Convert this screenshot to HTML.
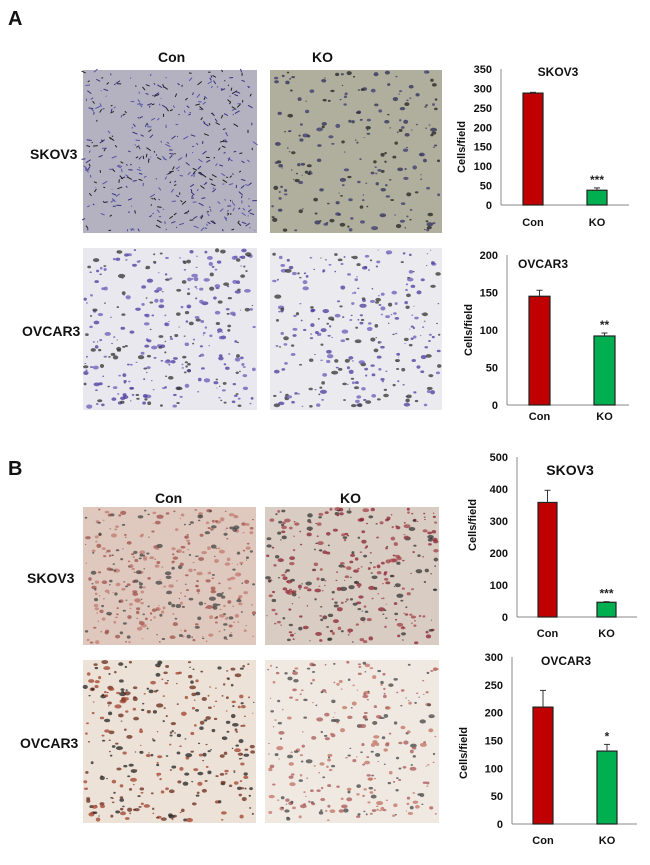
<!DOCTYPE html>
<html><head><meta charset="utf-8">
<style>
body{margin:0;background:#fff;width:650px;height:865px;position:relative;overflow:hidden;font-family:"Liberation Sans",Arial,sans-serif}
.t{position:absolute;font-weight:bold;color:#111}
svg{position:absolute;left:0;top:0}
</style></head><body>
<div class="t" style="left:8px;top:8px;font-size:20px">A</div>
<div class="t" style="left:8px;top:458px;font-size:20px">B</div>
<div class="t" style="left:158px;top:49px;font-size:14px">Con</div>
<div class="t" style="left:312px;top:49px;font-size:14px">KO</div>
<div class="t" style="left:30px;top:146px;font-size:14px">SKOV3</div>
<div class="t" style="left:22px;top:323px;font-size:14px">OVCAR3</div>
<div class="t" style="left:155px;top:490px;font-size:14px">Con</div>
<div class="t" style="left:340px;top:490px;font-size:14px">KO</div>
<div class="t" style="left:27px;top:570px;font-size:14px">SKOV3</div>
<div class="t" style="left:20px;top:735px;font-size:14px">OVCAR3</div>
<svg id="s" width="650" height="865"></svg>
<script>
// chart data
const categories=["Con","KO"];
const aSkovValues=[288,38];
const aSkovErrors=[2,6];
const aSkovStars=["","***"];
const aSkovTicks=[0,50,100,150,200,250,300,350];
const aOvcarValues=[145,92];
const aOvcarErrors=[8,4];
const aOvcarStars=["","**"];
const aOvcarTicks=[0,50,100,150,200];
const bSkovValues=[358,46];
const bSkovErrors=[38,2];
const bSkovStars=["","***"];
const bSkovTicks=[0,100,200,300,400,500];
const bOvcarValues=[210,131];
const bOvcarErrors=[30,12];
const bOvcarStars=["","*"];
const bOvcarTicks=[0,50,100,150,200,250,300];

const NS="http://www.w3.org/2000/svg";
const svg=document.getElementById('s');
function mk(tag,at,parent){const e=document.createElementNS(NS,tag);for(const k in at)e.setAttribute(k,at[k]);(parent||svg).appendChild(e);return e;}

// microscopy image approximations
let seed=7;function rnd(){seed=(seed*16807)%2147483647;return seed/2147483647;}
const imgs=[
 ["img-a-skov3-con",83,70,174,163,"#b4b2c0",["#3a3280","#5a54a8","#222"],420,true],
 ["img-a-skov3-ko",270,70,172,163,"#b0ae9c",["#2e2c5a","#3a3870","#222"],220,false],
 ["img-a-ovcar3-con",83,248,174,162,"#e8e8ee",["#4a3a9c","#6a5ab8","#333"],330,false],
 ["img-a-ovcar3-ko",270,248,172,162,"#ebebef",["#4a3a9c","#6a5ab8","#333"],280,false],
 ["img-b-skov3-con",83,507,173,138,"#dfc9bf",["#c07a70","#a05048","#444"],380,false],
 ["img-b-skov3-ko",265,507,174,138,"#d9cdc3",["#8a2030","#333","#a04048"],330,false],
 ["img-b-ovcar3-con",83,660,173,163,"#ece2d8",["#a0402a","#6a2a1a","#222"],330,false],
 ["img-b-ovcar3-ko",265,660,174,163,"#efe9e2",["#c07060","#444","#a55"],300,false]];
imgs.forEach(m=>{
 const g=mk('g',{});
 
 
 mk('rect',{x:m[1],y:m[2],width:m[3],height:m[4],fill:m[5]},g);
 for(let i=0;i<m[7];i++){
  const cx=m[1]+2+rnd()*(m[3]-4),cy=m[2]+2+rnd()*(m[4]-4);
  const r=0.5+rnd()*1.6;
  if(m[8]){mk('line',{x1:cx,y1:cy,x2:cx+(rnd()-.5)*10,y2:cy+(rnd()-.5)*7,stroke:m[6][i%3],'stroke-width':1},g);}
  else mk('ellipse',{cx,cy,rx:r*(1+rnd()*0.8),ry:r,fill:m[6][i%3],opacity:0.75},g);
 }
});

function chart(o){
 const g=mk('g',{});
 
 
 const max=o.ticks[o.ticks.length-1];
 const y=v=>o.y0-(v/max)*(o.y0-o.yTop);
 mk('line',{x1:o.ax,y1:o.yTop,x2:o.ax,y2:o.y0,stroke:'#888','stroke-width':1},g);
 mk('line',{x1:o.ax,y1:o.y0,x2:o.axEnd,y2:o.y0,stroke:'#888','stroke-width':1},g);
 o.ticks.forEach(t=>{const tx=mk('text',{x:o.ax-9,y:y(t)+4,'text-anchor':'end','font-size':11,'font-weight':'bold',fill:'#111'},g);tx.textContent=t;
  
  });
 const colors=['#c00000','#00b050'];
 categories.forEach((c,i)=>{
  const x=o.bx[i],w=o.bw;
  const r=mk('rect',{x,y:y(o.vals[i]),width:w,height:o.y0-y(o.vals[i]),fill:colors[i],stroke:'#222','stroke-width':1.2},g);
  
  
  const cx=x+w/2,ye=y(o.vals[i]+o.errs[i]);
  mk('line',{x1:cx,y1:y(o.vals[i]),x2:cx,y2:ye,stroke:'#333','stroke-width':1},g);
  mk('line',{x1:cx-3,y1:ye,x2:cx+3,y2:ye,stroke:'#333','stroke-width':1},g);
  if(o.stars[i]){const s=mk('text',{x:cx,y:ye-4,'text-anchor':'middle','font-size':12,'font-weight':'bold',fill:'#222'},g);s.textContent=o.stars[i];
   
   }
  const l=mk('text',{x:cx,y:o.labY,'text-anchor':'middle','font-size':11,'font-weight':'bold',fill:'#111'},g);l.textContent=c;
  
  
 });
 const t=mk('text',{x:o.tx,y:o.ty,'text-anchor':'middle','font-size':o.tfs,'font-weight':'bold',fill:'#111'},g);t.textContent=o.title;
 
 
 const yt=mk('text',{x:o.ytx,y:o.yty,'text-anchor':'middle','font-size':11,'font-weight':'bold',fill:'#111',transform:`rotate(-90 ${o.ytx} ${o.yty})`},g);yt.textContent='Cells/field';
 
 
}
chart({name:'chart-a-skov3',vals:aSkovValues,errs:aSkovErrors,stars:aSkovStars,ticks:aSkovTicks,ax:501,axEnd:629,yTop:69,y0:205,bx:[523,587],bw:20,labY:226,title:'SKOV3',tx:558,ty:76,tfs:12,ytx:465,yty:147});
chart({name:'chart-a-ovcar3',vals:aOvcarValues,errs:aOvcarErrors,stars:aOvcarStars,ticks:aOvcarTicks,ax:507,axEnd:629,yTop:255,y0:405,bx:[529,594],bw:21,labY:420,title:'OVCAR3',tx:543,ty:268,tfs:12,ytx:472,yty:330});
chart({name:'chart-b-skov3',vals:bSkovValues,errs:bSkovErrors,stars:bSkovStars,ticks:bSkovTicks,ax:517,axEnd:637,yTop:457,y0:617,bx:[538,597],bw:19,labY:637,title:'SKOV3',tx:570,ty:475,tfs:14,ytx:476,yty:525});
chart({name:'chart-b-ovcar3',vals:bOvcarValues,errs:bOvcarErrors,stars:bOvcarStars,ticks:bOvcarTicks,ax:512,axEnd:637,yTop:657,y0:824,bx:[533,597],bw:20,labY:844,title:'OVCAR3',tx:566,ty:665,tfs:12,ytx:467,yty:753});
</script>
</body></html>
